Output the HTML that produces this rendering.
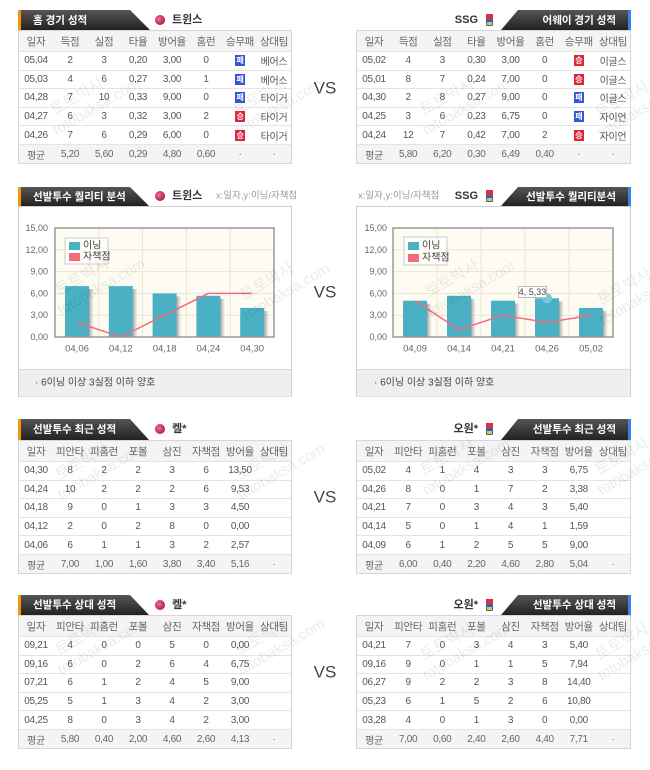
<!DOCTYPE html>
<html><head><meta charset="utf-8">
<style>
*{box-sizing:border-box;margin:0;padding:0}
body{width:650px;height:770px;background:#fff;position:relative;overflow:hidden;font-family:"Liberation Sans","Noto Sans CJK KR",sans-serif}
svg.bg{position:absolute;left:0;top:0;z-index:1}
svg.wm{position:absolute;left:0;top:0;z-index:3;pointer-events:none}
.tbl{position:absolute;z-index:2;border:1px solid #d6d6d6;background:#fff;font-size:10px;color:#555;letter-spacing:-0.3px}
.r{display:flex;height:18.6px;border-top:1px solid #e4e4e4;align-items:center}
.r span{flex:1;text-align:center;white-space:nowrap}
.h{height:20px;background:#f4f4f4;border-top:none;font-size:10.5px;color:#666}
.a{height:19.5px;background:#f4f4f4;color:#666}
.w,.l{display:inline-block;width:10px;height:11px;line-height:11px;font-size:8px;color:#fff;font-weight:bold;vertical-align:middle}
.w{background:#e0263a}
.l{background:#3656d6}
</style></head><body>

<svg class="bg" width="650" height="770" viewBox="0 0 650 770" xmlns="http://www.w3.org/2000/svg" font-family="Liberation Sans, Noto Sans CJK KR, sans-serif">
<defs>
<linearGradient id="tg" x1="0" y1="0" x2="0" y2="1"><stop offset="0" stop-color="#555"/><stop offset="1" stop-color="#222"/></linearGradient>
<linearGradient id="sh" x1="0" y1="0" x2="1" y2="0"><stop offset="0" stop-color="#888" stop-opacity="0.8"/><stop offset="1" stop-color="#bbb" stop-opacity="0"/></linearGradient>
<radialGradient id="lg" cx="0.4" cy="0.4" r="0.6"><stop offset="0" stop-color="#f07090"/><stop offset="1" stop-color="#b0203c"/></radialGradient>
</defs>

<!-- ========== Section 1 ========== -->
<path d="M18,10 H130 L150,30 H18 Z" fill="url(#tg)"/>
<rect x="18" y="10" width="3" height="20" fill="#f39800"/>
<text x="33" y="20.5" fill="#fff" font-size="10.5" font-weight="bold" dominant-baseline="central">홈 경기 성적</text>
<circle cx="160" cy="20" r="5" fill="url(#lg)"/>
<text x="172" y="20" fill="#333" font-size="11" font-weight="bold" dominant-baseline="central">트윈스</text>

<path d="M518,10 H631 V30 H501 Z" fill="url(#tg)"/>
<rect x="628" y="10" width="3" height="20" fill="#3b82e6"/>
<text x="616" y="20.5" fill="#fff" font-size="10.5" font-weight="bold" text-anchor="end" dominant-baseline="central">어웨이 경기 성적</text>
<text x="478" y="20" fill="#333" font-size="11" font-weight="bold" text-anchor="end" dominant-baseline="central">SSG</text>
<rect x="486" y="14" width="7" height="12" rx="1" fill="#3060c0"/><rect x="486" y="14" width="7" height="5" fill="#e03040"/><rect x="487" y="22" width="5" height="3" fill="#f0c020"/>

<text x="325" y="88" fill="#444" font-size="17" text-anchor="middle" dominant-baseline="central">VS</text>

<!-- ========== Section 2 ========== -->
<path d="M18,187 H130 L149,206 H18 Z" fill="url(#tg)"/>
<rect x="18" y="187" width="3" height="19" fill="#f39800"/>
<text x="33" y="197" fill="#fff" font-size="10.5" font-weight="bold" dominant-baseline="central">선발투수 퀄리티 분석</text>
<circle cx="160" cy="196" r="5" fill="url(#lg)"/>
<text x="172" y="196" fill="#333" font-size="11" font-weight="bold" dominant-baseline="central">트윈스</text>
<text x="216" y="196" fill="#999" font-size="9.5" dominant-baseline="central">x:일자,y:이닝/자책점</text>

<path d="M518,187 H631 V206 H501 Z" fill="url(#tg)"/>
<rect x="628" y="187" width="3" height="19" fill="#3b82e6"/>
<text x="616" y="197" fill="#fff" font-size="10.5" font-weight="bold" text-anchor="end" dominant-baseline="central">선발투수 퀄리티분석</text>
<text x="358" y="196" fill="#999" font-size="9.5" dominant-baseline="central">x:일자,y:이닝/자책점</text>
<text x="478" y="196" fill="#333" font-size="11" font-weight="bold" text-anchor="end" dominant-baseline="central">SSG</text>
<rect x="486" y="190" width="7" height="12" rx="1" fill="#3060c0"/><rect x="486" y="190" width="7" height="5" fill="#e03040"/><rect x="487" y="198" width="5" height="3" fill="#f0c020"/>

<!-- left chart panel -->
<rect x="18.5" y="206.5" width="273" height="190" fill="#fff" stroke="#cfcfcf"/>
<rect x="19" y="369" width="272" height="27.5" fill="#efefef"/>
<line x1="19" y1="369.5" x2="291" y2="369.5" stroke="#d8d8d8"/>
<text x="35" y="383" fill="#444" font-size="10" dominant-baseline="central">·  6이닝 이상 3실점 이하 양호</text>

<rect x="55" y="228" width="219" height="109" fill="#fefcf2"/>
<g stroke="#ebe4d2" stroke-width="1">
<line x1="55" y1="249.8" x2="274" y2="249.8"/><line x1="55" y1="271.6" x2="274" y2="271.6"/>
<line x1="55" y1="293.4" x2="274" y2="293.4"/><line x1="55" y1="315.2" x2="274" y2="315.2"/>
<line x1="98.8" y1="228" x2="98.8" y2="337"/><line x1="142.6" y1="228" x2="142.6" y2="337"/>
<line x1="186.4" y1="228" x2="186.4" y2="337"/><line x1="230.2" y1="228" x2="230.2" y2="337"/>
</g>
<g fill="#666" font-size="9" text-anchor="end" dominant-baseline="central">
<text x="48" y="228">15,00</text><text x="48" y="249.8">12,00</text><text x="48" y="271.6">9,00</text>
<text x="48" y="293.4">6,00</text><text x="48" y="315.2">3,00</text><text x="48" y="337">0,00</text>
</g>
<g fill="url(#sh)">
<rect x="89" y="289" width="5" height="48"/><rect x="132.8" y="289" width="5" height="48"/>
<rect x="176.6" y="296.4" width="5" height="40.6"/><rect x="220.4" y="298.8" width="5" height="38.2"/>
<rect x="264.2" y="310.9" width="5" height="26.1"/>
</g>
<g fill="#4ab1c5">
<rect x="65" y="286.1" width="24" height="50.9"/><rect x="108.8" y="286.1" width="24" height="50.9"/>
<rect x="152.6" y="293.4" width="24" height="43.6"/><rect x="196.4" y="295.8" width="24" height="41.2"/>
<rect x="240.2" y="307.9" width="24" height="29.1"/>
</g>
<polyline points="77,322.5 120.8,337 164.6,315.2 208.4,293.4 252.2,293.4" fill="none" stroke="#f26c7c" stroke-width="1.5"/>
<rect x="55" y="228" width="219" height="109" fill="none" stroke="#999" stroke-width="1.5"/>
<rect x="65" y="238" width="43" height="26" fill="#fff" fill-opacity="0.7" stroke="#ccc"/>
<rect x="69" y="242" width="11" height="8" fill="#4ab1c5"/>
<text x="83" y="246" fill="#444" font-size="10" dominant-baseline="central">이닝</text>
<rect x="69" y="253" width="11" height="8" fill="#f26c7c"/>
<text x="83" y="257" fill="#444" font-size="10" dominant-baseline="central">자책점</text>
<g fill="#666" font-size="9.5" text-anchor="middle" dominant-baseline="central">
<text x="77" y="349">04,06</text><text x="120.8" y="349">04,12</text><text x="164.6" y="349">04,18</text>
<text x="208.4" y="349">04,24</text><text x="252.2" y="349">04,30</text>
</g>

<!-- right chart panel -->
<rect x="356.5" y="206.5" width="274" height="190" fill="#fff" stroke="#cfcfcf"/>
<rect x="357" y="369" width="273" height="27.5" fill="#efefef"/>
<line x1="357" y1="369.5" x2="630" y2="369.5" stroke="#d8d8d8"/>
<text x="374" y="383" fill="#444" font-size="10" dominant-baseline="central">·  6이닝 이상 3실점 이하 양호</text>

<rect x="393" y="228" width="220" height="109" fill="#fefcf2"/>
<g stroke="#ebe4d2" stroke-width="1">
<line x1="393" y1="249.8" x2="613" y2="249.8"/><line x1="393" y1="271.6" x2="613" y2="271.6"/>
<line x1="393" y1="293.4" x2="613" y2="293.4"/><line x1="393" y1="315.2" x2="613" y2="315.2"/>
<line x1="437" y1="228" x2="437" y2="337"/><line x1="481" y1="228" x2="481" y2="337"/>
<line x1="525" y1="228" x2="525" y2="337"/><line x1="569" y1="228" x2="569" y2="337"/>
</g>
<g fill="#666" font-size="9" text-anchor="end" dominant-baseline="central">
<text x="387" y="228">15,00</text><text x="387" y="249.8">12,00</text><text x="387" y="271.6">9,00</text>
<text x="387" y="293.4">6,00</text><text x="387" y="315.2">3,00</text><text x="387" y="337">0,00</text>
</g>
<g fill="url(#sh)">
<rect x="427" y="303.7" width="5" height="33.3"/><rect x="471" y="298.8" width="5" height="38.2"/>
<rect x="515" y="303.7" width="5" height="33.3"/><rect x="559" y="301.3" width="5" height="35.7"/>
<rect x="603" y="310.9" width="5" height="26.1"/>
</g>
<g fill="#4ab1c5">
<rect x="403" y="300.7" width="24" height="36.3"/><rect x="447" y="295.8" width="24" height="41.2"/>
<rect x="491" y="300.7" width="24" height="36.3"/><rect x="535" y="298.3" width="24" height="38.7"/>
<rect x="579" y="307.9" width="24" height="29.1"/>
</g>
<circle cx="547" cy="298.3" r="5" fill="#7cc8d8"/>
<polyline points="415,300.7 459,329.7 503,315.2 547,322.5 591,315.2" fill="none" stroke="#f26c7c" stroke-width="1.5"/>
<rect x="393" y="228" width="220" height="109" fill="none" stroke="#999" stroke-width="1.5"/>
<rect x="404" y="237" width="43" height="28" fill="#fff" fill-opacity="0.7" stroke="#ccc"/>
<rect x="408" y="242" width="11" height="8" fill="#4ab1c5"/>
<text x="422" y="246" fill="#444" font-size="10" dominant-baseline="central">이닝</text>
<rect x="408" y="254" width="11" height="8" fill="#f26c7c"/>
<text x="422" y="258" fill="#444" font-size="10" dominant-baseline="central">자책점</text>
<rect x="518.5" y="286.5" width="28" height="11" fill="#fff" stroke="#bbb"/>
<text x="532.5" y="292" fill="#444" font-size="9" text-anchor="middle" dominant-baseline="central">4, 5,33</text>
<g fill="#666" font-size="9.5" text-anchor="middle" dominant-baseline="central">
<text x="415" y="349">04,09</text><text x="459" y="349">04,14</text><text x="503" y="349">04,21</text>
<text x="547" y="349">04,26</text><text x="591" y="349">05,02</text>
</g>

<text x="325" y="292" fill="#444" font-size="17" text-anchor="middle" dominant-baseline="central">VS</text>

<!-- ========== Section 3 ========== -->
<path d="M18,419 H130 L149,440 H18 Z" fill="url(#tg)"/>
<rect x="18" y="419" width="3" height="21" fill="#f39800"/>
<text x="33" y="429.5" fill="#fff" font-size="10.5" font-weight="bold" dominant-baseline="central">선발투수 최근 성적</text>
<circle cx="160" cy="429" r="5" fill="url(#lg)"/>
<text x="172" y="429" fill="#333" font-size="11" font-weight="bold" dominant-baseline="central">켈*</text>

<path d="M518,419 H631 V440 H501 Z" fill="url(#tg)"/>
<rect x="628" y="419" width="3" height="21" fill="#3b82e6"/>
<text x="616" y="429.5" fill="#fff" font-size="10.5" font-weight="bold" text-anchor="end" dominant-baseline="central">선발투수 최근 성적</text>
<text x="478" y="429" fill="#333" font-size="11" font-weight="bold" text-anchor="end" dominant-baseline="central">오원*</text>
<rect x="486" y="423" width="7" height="12" rx="1" fill="#3060c0"/><rect x="486" y="423" width="7" height="5" fill="#e03040"/><rect x="487" y="431" width="5" height="3" fill="#f0c020"/>

<text x="325" y="497" fill="#444" font-size="17" text-anchor="middle" dominant-baseline="central">VS</text>

<!-- ========== Section 4 ========== -->
<path d="M18,595 H130 L149,615 H18 Z" fill="url(#tg)"/>
<rect x="18" y="595" width="3" height="20" fill="#f39800"/>
<text x="33" y="605" fill="#fff" font-size="10.5" font-weight="bold" dominant-baseline="central">선발투수 상대 성적</text>
<circle cx="160" cy="605" r="5" fill="url(#lg)"/>
<text x="172" y="605" fill="#333" font-size="11" font-weight="bold" dominant-baseline="central">켈*</text>

<path d="M518,595 H631 V615 H501 Z" fill="url(#tg)"/>
<rect x="628" y="595" width="3" height="20" fill="#3b82e6"/>
<text x="616" y="605" fill="#fff" font-size="10.5" font-weight="bold" text-anchor="end" dominant-baseline="central">선발투수 상대 성적</text>
<text x="478" y="605" fill="#333" font-size="11" font-weight="bold" text-anchor="end" dominant-baseline="central">오원*</text>
<rect x="486" y="599" width="7" height="12" rx="1" fill="#3060c0"/><rect x="486" y="599" width="7" height="5" fill="#e03040"/><rect x="487" y="607" width="5" height="3" fill="#f0c020"/>

<text x="325" y="672" fill="#444" font-size="17" text-anchor="middle" dominant-baseline="central">VS</text>
</svg>

<!-- Section 1 tables -->
<div class="tbl" style="left:18px;top:30px;width:274px">
<div class="r h"><span>일자</span><span>득점</span><span>실점</span><span>타율</span><span>방어율</span><span>홈런</span><span>승무패</span><span>상대팀</span></div>
<div class="r"><span>05,04</span><span>2</span><span>3</span><span>0,20</span><span>3,00</span><span>0</span><span><b class="l">패</b></span><span>베어스</span></div>
<div class="r"><span>05,03</span><span>4</span><span>6</span><span>0,27</span><span>3,00</span><span>1</span><span><b class="l">패</b></span><span>베어스</span></div>
<div class="r"><span>04,28</span><span>7</span><span>10</span><span>0,33</span><span>9,00</span><span>0</span><span><b class="l">패</b></span><span>타이거</span></div>
<div class="r"><span>04,27</span><span>6</span><span>3</span><span>0,32</span><span>3,00</span><span>2</span><span><b class="w">승</b></span><span>타이거</span></div>
<div class="r"><span>04,26</span><span>7</span><span>6</span><span>0,29</span><span>6,00</span><span>0</span><span><b class="w">승</b></span><span>타이거</span></div>
<div class="r a"><span>평균</span><span>5,20</span><span>5,60</span><span>0,29</span><span>4,80</span><span>0,60</span><span>·</span><span>·</span></div>
</div>
<div class="tbl" style="left:356px;top:30px;width:275px">
<div class="r h"><span>일자</span><span>득점</span><span>실점</span><span>타율</span><span>방어율</span><span>홈런</span><span>승무패</span><span>상대팀</span></div>
<div class="r"><span>05,02</span><span>4</span><span>3</span><span>0,30</span><span>3,00</span><span>0</span><span><b class="w">승</b></span><span>이글스</span></div>
<div class="r"><span>05,01</span><span>8</span><span>7</span><span>0,24</span><span>7,00</span><span>0</span><span><b class="w">승</b></span><span>이글스</span></div>
<div class="r"><span>04,30</span><span>2</span><span>8</span><span>0,27</span><span>9,00</span><span>0</span><span><b class="l">패</b></span><span>이글스</span></div>
<div class="r"><span>04,25</span><span>3</span><span>6</span><span>0,23</span><span>6,75</span><span>0</span><span><b class="l">패</b></span><span>자이언</span></div>
<div class="r"><span>04,24</span><span>12</span><span>7</span><span>0,42</span><span>7,00</span><span>2</span><span><b class="w">승</b></span><span>자이언</span></div>
<div class="r a"><span>평균</span><span>5,80</span><span>6,20</span><span>0,30</span><span>6,49</span><span>0,40</span><span>·</span><span>·</span></div>
</div>

<!-- Section 3 tables -->
<div class="tbl" style="left:18px;top:440px;width:274px">
<div class="r h"><span>일자</span><span>피안타</span><span>피홈런</span><span>포볼</span><span>삼진</span><span>자책점</span><span>방어율</span><span>상대팀</span></div>
<div class="r"><span>04,30</span><span>8</span><span>2</span><span>2</span><span>3</span><span>6</span><span>13,50</span><span></span></div>
<div class="r"><span>04,24</span><span>10</span><span>2</span><span>2</span><span>2</span><span>6</span><span>9,53</span><span></span></div>
<div class="r"><span>04,18</span><span>9</span><span>0</span><span>1</span><span>3</span><span>3</span><span>4,50</span><span></span></div>
<div class="r"><span>04,12</span><span>2</span><span>0</span><span>2</span><span>8</span><span>0</span><span>0,00</span><span></span></div>
<div class="r"><span>04,06</span><span>6</span><span>1</span><span>1</span><span>3</span><span>2</span><span>2,57</span><span></span></div>
<div class="r a"><span>평균</span><span>7,00</span><span>1,00</span><span>1,60</span><span>3,80</span><span>3,40</span><span>5,16</span><span>·</span></div>
</div>
<div class="tbl" style="left:356px;top:440px;width:275px">
<div class="r h"><span>일자</span><span>피안타</span><span>피홈런</span><span>포볼</span><span>삼진</span><span>자책점</span><span>방어율</span><span>상대팀</span></div>
<div class="r"><span>05,02</span><span>4</span><span>1</span><span>4</span><span>3</span><span>3</span><span>6,75</span><span></span></div>
<div class="r"><span>04,26</span><span>8</span><span>0</span><span>1</span><span>7</span><span>2</span><span>3,38</span><span></span></div>
<div class="r"><span>04,21</span><span>7</span><span>0</span><span>3</span><span>4</span><span>3</span><span>5,40</span><span></span></div>
<div class="r"><span>04,14</span><span>5</span><span>0</span><span>1</span><span>4</span><span>1</span><span>1,59</span><span></span></div>
<div class="r"><span>04,09</span><span>6</span><span>1</span><span>2</span><span>5</span><span>5</span><span>9,00</span><span></span></div>
<div class="r a"><span>평균</span><span>6,00</span><span>0,40</span><span>2,20</span><span>4,60</span><span>2,80</span><span>5,04</span><span>·</span></div>
</div>

<!-- Section 4 tables -->
<div class="tbl" style="left:18px;top:615px;width:274px">
<div class="r h"><span>일자</span><span>피안타</span><span>피홈런</span><span>포볼</span><span>삼진</span><span>자책점</span><span>방어율</span><span>상대팀</span></div>
<div class="r"><span>09,21</span><span>4</span><span>0</span><span>0</span><span>5</span><span>0</span><span>0,00</span><span></span></div>
<div class="r"><span>09,16</span><span>6</span><span>0</span><span>2</span><span>6</span><span>4</span><span>6,75</span><span></span></div>
<div class="r"><span>07,21</span><span>6</span><span>1</span><span>2</span><span>4</span><span>5</span><span>9,00</span><span></span></div>
<div class="r"><span>05,25</span><span>5</span><span>1</span><span>3</span><span>4</span><span>2</span><span>3,00</span><span></span></div>
<div class="r"><span>04,25</span><span>8</span><span>0</span><span>3</span><span>4</span><span>2</span><span>3,00</span><span></span></div>
<div class="r a"><span>평균</span><span>5,80</span><span>0,40</span><span>2,00</span><span>4,60</span><span>2,60</span><span>4,13</span><span>·</span></div>
</div>
<div class="tbl" style="left:356px;top:615px;width:275px">
<div class="r h"><span>일자</span><span>피안타</span><span>피홈런</span><span>포볼</span><span>삼진</span><span>자책점</span><span>방어율</span><span>상대팀</span></div>
<div class="r"><span>04,21</span><span>7</span><span>0</span><span>3</span><span>4</span><span>3</span><span>5,40</span><span></span></div>
<div class="r"><span>09,16</span><span>9</span><span>0</span><span>1</span><span>1</span><span>5</span><span>7,94</span><span></span></div>
<div class="r"><span>06,27</span><span>9</span><span>2</span><span>2</span><span>3</span><span>8</span><span>14,40</span><span></span></div>
<div class="r"><span>05,23</span><span>6</span><span>1</span><span>5</span><span>2</span><span>6</span><span>10,80</span><span></span></div>
<div class="r"><span>03,28</span><span>4</span><span>0</span><span>1</span><span>3</span><span>0</span><span>0,00</span><span></span></div>
<div class="r a"><span>평균</span><span>7,00</span><span>0,60</span><span>2,40</span><span>2,60</span><span>4,40</span><span>7,71</span><span>·</span></div>
</div>

<!-- watermarks -->
<svg class="wm" width="650" height="770" viewBox="0 0 650 770" xmlns="http://www.w3.org/2000/svg" font-family="Liberation Sans, Noto Sans CJK KR, sans-serif" fill="#000" fill-opacity="0.08">
<g transform="translate(85,105) rotate(-30)"><text x="-32" y="-6" font-size="16">토토박사</text><text x="-40" y="12" font-size="15">totobaksa.com</text></g>
<g transform="translate(268,105) rotate(-30)"><text x="-32" y="-6" font-size="16">토토박사</text><text x="-40" y="12" font-size="15">totobaksa.com</text></g>
<g transform="translate(455,105) rotate(-30)"><text x="-32" y="-6" font-size="16">토토박사</text><text x="-40" y="12" font-size="15">totobaksa.com</text></g>
<g transform="translate(630,108) rotate(-30)"><text x="-32" y="-6" font-size="16">토토박사</text><text x="-40" y="12" font-size="15">totobaksa.com</text></g>
<g transform="translate(90,285) rotate(-30)"><text x="-32" y="-6" font-size="16">토토박사</text><text x="-40" y="12" font-size="15">totobaksa.com</text></g>
<g transform="translate(275,290) rotate(-30)"><text x="-32" y="-6" font-size="16">토토박사</text><text x="-40" y="12" font-size="15">totobaksa.com</text></g>
<g transform="translate(460,287) rotate(-30)"><text x="-32" y="-6" font-size="16">토토박사</text><text x="-40" y="12" font-size="15">totobaksa.com</text></g>
<g transform="translate(632,295) rotate(-30)"><text x="-32" y="-6" font-size="16">토토박사</text><text x="-40" y="12" font-size="15">totobaksa.com</text></g>
<g transform="translate(90,470) rotate(-30)"><text x="-32" y="-6" font-size="16">토토박사</text><text x="-40" y="12" font-size="15">totobaksa.com</text></g>
<g transform="translate(270,470) rotate(-30)"><text x="-32" y="-6" font-size="16">토토박사</text><text x="-40" y="12" font-size="15">totobaksa.com</text></g>
<g transform="translate(455,465) rotate(-30)"><text x="-32" y="-6" font-size="16">토토박사</text><text x="-40" y="12" font-size="15">totobaksa.com</text></g>
<g transform="translate(630,465) rotate(-30)"><text x="-32" y="-6" font-size="16">토토박사</text><text x="-40" y="12" font-size="15">totobaksa.com</text></g>
<g transform="translate(90,645) rotate(-30)"><text x="-32" y="-6" font-size="16">토토박사</text><text x="-40" y="12" font-size="15">totobaksa.com</text></g>
<g transform="translate(270,645) rotate(-30)"><text x="-32" y="-6" font-size="16">토토박사</text><text x="-40" y="12" font-size="15">totobaksa.com</text></g>
<g transform="translate(455,650) rotate(-30)"><text x="-32" y="-6" font-size="16">토토박사</text><text x="-40" y="12" font-size="15">totobaksa.com</text></g>
<g transform="translate(630,650) rotate(-30)"><text x="-32" y="-6" font-size="16">토토박사</text><text x="-40" y="12" font-size="15">totobaksa.com</text></g>
</svg>
</body></html>
